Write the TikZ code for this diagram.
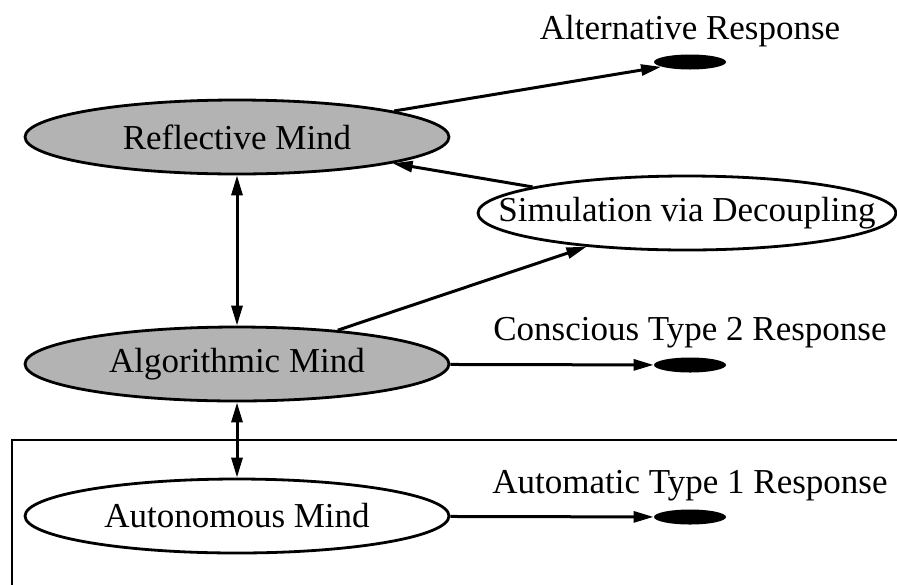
\documentclass[tikz,border=0pt]{standalone}
\usepackage{fontspec}
\setmainfont{Liberation Serif}
\usepackage{tikz}
\usetikzlibrary{arrows.meta}
\usetikzlibrary{shapes.geometric}
\tikzset{>={Triangle[length=10pt,width=5.5pt]}}
\tikzset{
	mind/.style={ellipse, draw, line width=1.4pt, inner sep=0pt, minimum width=212pt, minimum height=37pt},
	resp/.style={ellipse, fill=black, inner sep=0pt, minimum width=36pt, minimum height=7.5pt},
	link/.style={line width=1.5pt}
}
\definecolor{mindgray}{RGB}{179, 179, 179}

\begin{document}
\begin{tikzpicture}[x=0.5pt, y=-0.5pt, font=\fontsize{17.5}{21}\selectfont]
	\useasboundingbox (0,0) rectangle (897,584);
	% box round the autonomous part
	\draw[line width=1.4pt] (12,590) |- (900,440);

	\node[mind, fill=mindgray] (refl) at (237,137) {Reflective Mind};
	\node[mind, fill=mindgray] (algo) at (237,364) {Algorithmic Mind};
	\node[mind, fill=white] (auto) at (237,516) {Autonomous Mind};
	\node[mind, fill=white, minimum width=209pt] (sim) at (687,213) {};
	\node (simtext) at (sim.center) {Simulation via Decoupling};

	\node[resp] (alt) at (690,62) {};
	\node[resp] (cons) at (690,365) {};
	\node[resp] (aut) at (690,517) {};
	\node (altlab) at (690,31) {Alternative Response};
	\node (conslab) at (690,333) {Conscious Type 2 Response};
	\node (autlab) at (690,486) {Automatic Type 1 Response};

	\draw[link,<->] (refl) -- (algo);
	\draw[link,<->] (algo) -- (auto);
	\draw[link,->] (refl) -- (alt);
	\draw[link,->] (sim) -- (refl);
	\draw[link,->] (algo) -- (sim);
	\draw[link,->] (algo) -- (cons);
	\draw[link,->] (auto) -- (aut);
\end{tikzpicture}
\end{document}
